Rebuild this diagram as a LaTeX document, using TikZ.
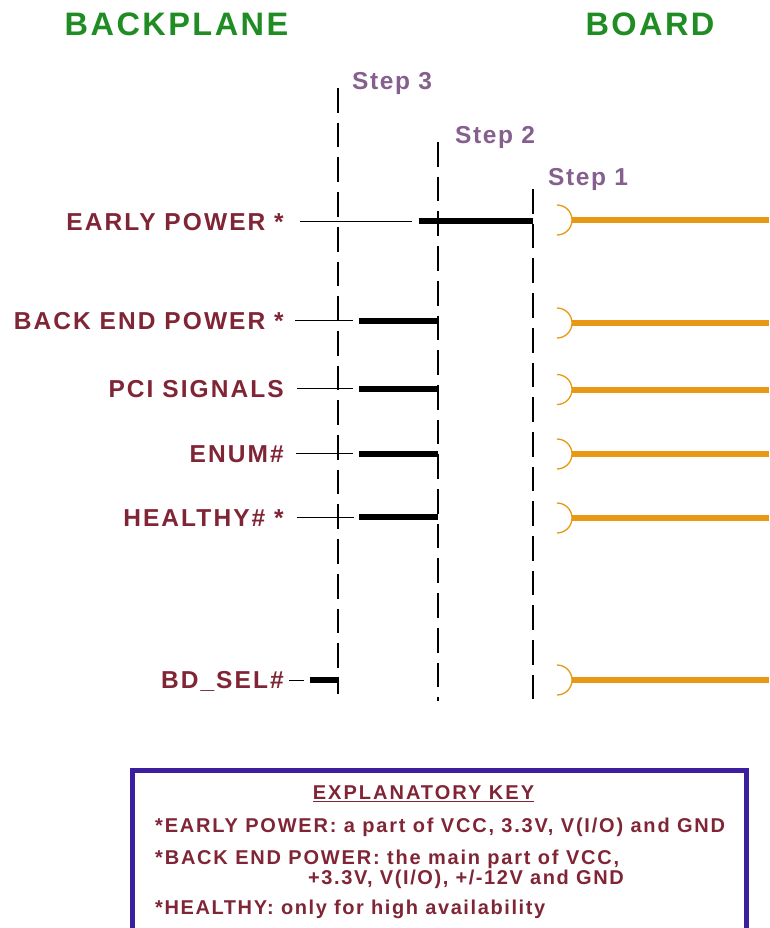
\documentclass[tikz,border=0pt]{standalone}
\usepackage{fontspec}
\setmainfont{Liberation Sans}[BoldFont=* Bold]
\newfontfamily\spacedA{Liberation Sans Bold}[LetterSpace=7.5]
\newfontfamily\spacedB{Liberation Sans Bold}[LetterSpace=8.5]
\newfontfamily\spacedS{Liberation Sans Bold}[LetterSpace=6.5]
\newfontfamily\spacedC{Liberation Sans Bold}[LetterSpace=9]
\newfontfamily\spacedD{Liberation Sans Bold}[LetterSpace=8]
\newfontfamily\spacedE{Liberation Sans Bold}[LetterSpace=10]
\definecolor{titlegreen}{HTML}{1F8C24}
\definecolor{signalred}{HTML}{7F2535}
\definecolor{stepviolet}{HTML}{85608F}
\definecolor{pinorange}{HTML}{E89813}
\definecolor{keyblue}{HTML}{3C1FA0}
\begin{document}
\begin{tikzpicture}[
        x=1pt, y=-1pt,
        titlelabel/.style = {text=titlegreen, inner sep=0pt, font=\spacedA\fontsize{32.5}{32.5}\selectfont},
        steplabel/.style = {text=stepviolet, inner sep=0pt, anchor=west, font=\spacedS\fontsize{24.5}{24.5}\selectfont},
        signal/.style = {text=signalred, inner sep=0pt, anchor=east, font=\spacedB\fontsize{24.5}{24.5}\selectfont},
        keytext/.style = {text=signalred, inner sep=0pt, anchor=west, font=\spacedC\fontsize{20}{20}\selectfont},
        keytight/.style = {keytext, font=\spacedD\fontsize{20}{20}\selectfont},
        stepline/.style = {line width=2pt, dash pattern=on 24.7pt off 10pt},
        thinwire/.style = {line width=1pt},
        thickwire/.style = {line width=6pt},
        pin/.style = {line width=6pt, pinorange},
        socket/.style = {line width=1.3pt, pinorange}
    ]
        \useasboundingbox (0,0) rectangle (769,928);
        \node[titlelabel] (backplane) at (176.5,24) {BACKPLANE};
        \node[titlelabel] (board) at (650,24) {BOARD};
        % steps
        \node[steplabel] (stepc) at (352,83.5) {Step 3};
        \node[steplabel] (stepb) at (455,137.5) {Step 2};
        \node[steplabel] (stepa) at (548,179.5) {Step 1};
        \coordinate (ctop) at (338,88);
        \coordinate (cend) at (338,694);
        \coordinate (btop) at (438,142);
        \coordinate (bend) at (438,701);
        \coordinate (atop) at (533,189);
        \coordinate (aend) at (533,699);
        \draw[stepline] (ctop) -- (cend);
        \draw[stepline] (btop) -- (bend);
        \draw[stepline] (atop) -- (aend);
        % signals
        \foreach \name/\txt/\y/\from/\mid/\start/\stop in {
            early/EARLY POWER */221/300/412/419/533,
            backend/BACK END POWER */320.5/295/353/359/438,
            pci/PCI SIGNALS/388.5/297/353/359/438,
            enum/ENUM\#/453.5/296/353/359/438,
            healthy/HEALTHY\# */517/297/354/359/438,
            bdsel/BD\_SEL\#/680/289/304/310/339} {
            \node[signal] (\name) at (284,\y+1) {\txt};
            \coordinate (\name a) at (\from,\y);
            \coordinate (\name b) at (\mid,\y);
            \coordinate (\name c) at (\start,\y);
            \coordinate (\name d) at (\stop,\y);
            \draw[thinwire] (\name a) -- (\name b);
            \draw[thickwire] (\name c) -- (\name d);
        }
        % board pins
        \foreach \name/\y in {pina/220, pinb/323, pinc/389.5, pind/454, pine/518, pinf/680} {
            \coordinate (\name) at (572,\y);
            \coordinate (\name end) at (769,\y);
            \draw[pin] (\name) -- (\name end);
            \draw[socket] (557,\y-15) arc[start angle=90, end angle=-90, radius=15pt];
        }
        % key
        \draw[line width=5pt, keyblue] (132,940) -- (132,770.5) -- (746.5,770.5) -- (746.5,940);
        \node[text=signalred, inner sep=0pt, font=\spacedE\fontsize{20}{20}\selectfont] (keyhead) at (423.5,793.5) {\underline{EXPLANATORY KEY}};
        \node[keytext] (keyearly) at (155,827.5) {*EARLY POWER: a part of VCC, 3.3V, V(I/O) and GND};
        \node[keytext] (keyback) at (155,859.5) {*BACK END POWER: the main part of VCC,};
        \node[keytight] (keyback2) at (308,879.5) {+3.3V, V(I/O), +/-12V and GND};
        \node[keytight] (keyhealthy) at (155,909.5) {*HEALTHY: only for high availability};
    \end{tikzpicture}
\end{document}
